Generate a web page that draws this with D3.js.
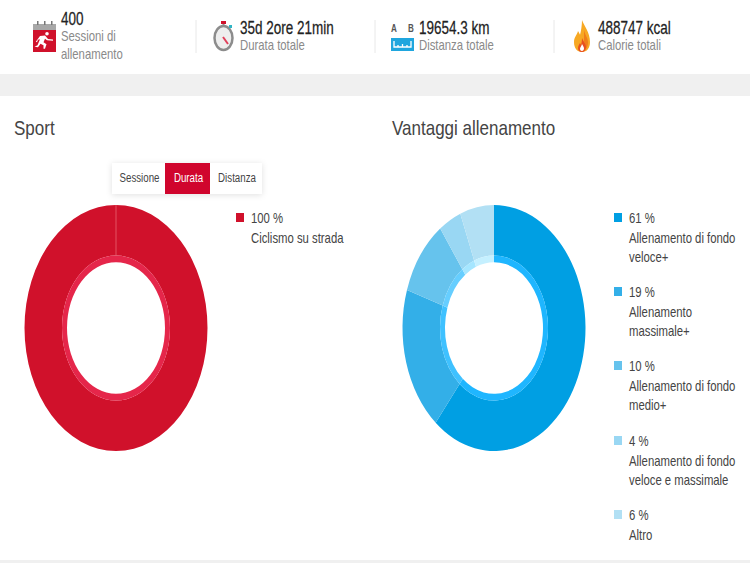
<!DOCTYPE html>
<html>
<head>
<meta charset="utf-8">
<script src="https://d3js.org/d3.v7.min.js"></script>
<style>
  html, body { margin: 0; padding: 0; background: #fff; }
  svg { display: block; }
  text { font-family: "Liberation Sans", Roboto, sans-serif; }
</style>
</head>
<body>
<div id="chart"></div>
<script>
// chart values
var sportLabels = ["Ciclismo su strada"];
var sportValues = [100];
var benefitValues = [61, 19, 10, 4, 6];
var benefitLabels = [
  ["Allenamento di fondo", "veloce+"],
  ["Allenamento", "massimale+"],
  ["Allenamento di fondo", "medio+"],
  ["Allenamento di fondo", "veloce e massimale"],
  ["Altro"]
];
var benefitColors = ["#009fe3", "#33afe8", "#66c3ed", "#99d7f3", "#b2e0f4"];
var benefitInner = ["#1fb6ff", "#3fc1ff", "#66ceff", "#a5e6ff", "#c5f0ff"];
var tabs = ["Sessione", "Durata", "Distanza"];

var W = 750, H = 563;
var squeeze = 0.81; // the whole picture is a bit condensed sideways

var svg = d3.select("#chart").append("svg").attr("width", W).attr("height", H);

svg.append("rect").attr("width", W).attr("height", H).attr("fill", "#fff");
svg.append("rect").attr("y", 74).attr("width", W).attr("height", 22).attr("fill", "#f0f0f0");
svg.append("rect").attr("y", 560).attr("width", W).attr("height", 3).attr("fill", "#f0f0f0");

function label(x, y, str, size, color, sx) {
  return svg.append("text")
    .attr("transform", "translate(" + x + "," + y + ") scale(" + (sx || squeeze) + ",1)")
    .attr("font-size", size)
    .attr("fill", color)
    .text(str);
}

// big header numbers are tighter and a little heavier than the rest
function headline(x, y, str) {
  return label(x, y, str, 18, "#222", 0.75)
    .attr("stroke", "#222").attr("stroke-width", 0.25);
}

// header
headline(61, 25, "400");
label(61, 41, "Sessioni di", 14, "#8a8a8a");
label(61, 59, "allenamento", 14, "#8a8a8a");
headline(240, 34, "35d 2ore 21min");
label(240, 50, "Durata totale", 14, "#8a8a8a");
headline(419, 34, "19654.3 km");
label(419, 50, "Distanza totale", 14, "#8a8a8a");
headline(598, 34, "488747 kcal");
label(598, 50, "Calorie totali", 14, "#8a8a8a");

[196, 375, 554].forEach(function(x) {
  svg.append("line").attr("x1", x).attr("x2", x).attr("y1", 20).attr("y2", 53)
    .attr("stroke", "#e8e8e8");
});

// calendar icon
svg.append("rect").attr("x", 33).attr("y", 24).attr("width", 23).attr("height", 6).attr("fill", "#a8a8a8");
[37, 44, 51].forEach(function(x) {
  svg.append("rect").attr("x", x).attr("y", 21).attr("width", 1.5).attr("height", 4).attr("fill", "#777");
});
svg.append("rect").attr("x", 33).attr("y", 30).attr("width", 23).attr("height", 22).attr("fill", "#d0112b");
svg.append("path")
  .attr("d", "M47 32a1.800 1.800 0 1 1 0 3.600a1.800 1.800 0 1 1 0-3.600M40 36l5-.5l3 3.500l5 .5l0 1.300l-6-.5l-2-1.500l-1.500 3.500l3 2l-1.500 4.500l-1.500 0l0-3.500l-3-1.500l-2.500 3.500l-3.500-.5l3-1.500l2.500-6l-2 .5l-1 2.500l-1.200-.5z")
  .attr("fill", "#fff");

// stopwatch icon
svg.append("rect").attr("x", 221).attr("y", 21).attr("width", 5).attr("height", 3).attr("fill", "#d0112b");
svg.append("rect").attr("x", 222.5).attr("y", 24).attr("width", 2).attr("height", 3).attr("fill", "#8c8c8c");
svg.append("ellipse").attr("cx", 223.5).attr("cy", 38).attr("rx", 9).attr("ry", 12)
  .attr("fill", "#eee").attr("stroke", "#8c8c8c").attr("stroke-width", 2.5);
svg.append("line").attr("x1", 223).attr("y1", 37).attr("x2", 228).attr("y2", 44)
  .attr("stroke", "#e0405a").attr("stroke-width", 2);
svg.append("rect").attr("x", 229).attr("y", 25).attr("width", 3).attr("height", 3).attr("fill", "#2fb5c5");

// A B ruler icon
label(391, 32, "A", 10, "#555").attr("font-weight", 700);
label(408, 32, "B", 10, "#555").attr("font-weight", 700);
svg.append("rect").attr("x", 391).attr("y", 38).attr("width", 23).attr("height", 13).attr("fill", "#1fa6de");
svg.append("path").attr("d", "M394 41v6h17v-6M398 45v2M402.500 44v3M407 45v2")
  .attr("fill", "none").attr("stroke", "#fff").attr("stroke-width", 1.3);

// flame icon
svg.append("path")
  .attr("d", "M582 20c2 6 8 12 8 22c0 6-3 10-8 10c-5 0-8-4-8-10c0-5 3-7 4-11c1 2 2 3 2 4c1-4 2-10 2-15z")
  .attr("fill", "#f7a823");
svg.append("path")
  .attr("d", "M584 30c1 5 4 8 4 12c0 5-2 8-6 10c3-3 3-7 2-11z")
  .attr("fill", "#ef7d1a");
svg.append("path")
  .attr("d", "M582 38c1 3 4 6 4 9c0 3-2 5-4 5c-3 0-4-2-4-4c0-2 1-3 2-5c.5 1 1 1.500 1 2c.5-2 1-4 1-7z")
  .attr("fill", "#e8501f");
svg.append("path")
  .attr("d", "M582 44c1 2 2 3 2 4.500c0 1.500-1 2.500-2 2.500c-1.500 0-2-1-2-2.200c0-1.500 1.500-2.500 2-4.800z")
  .attr("fill", "#fff");

// section titles
label(14, 135, "Sport", 21, "#444");
label(392, 135, "Vantaggi allenamento", 21, "#444");

// tabs
var tabWidths = { "Sessione": 53, "Durata": 45, "Distanza": 52 };
var tabStart = { "Sessione": 112, "Durata": 165, "Distanza": 210 };
svg.append("rect").attr("x", 112).attr("y", 163).attr("width", 150).attr("height", 31)
  .attr("fill", "#fff").style("filter", "drop-shadow(0 1px 3px rgba(0,0,0,0.12))");
tabs.forEach(function(t) {
  if (t === "Durata") {
    svg.append("rect").attr("x", tabStart[t]).attr("y", 163)
      .attr("width", tabWidths[t]).attr("height", 31).attr("fill", "#d0052d");
  }
  label(tabStart[t] + tabWidths[t] / 2 + 1, 182, t, 13.5, t === "Durata" ? "#fff" : "#444", 0.72)
    .attr("text-anchor", "middle");
});

// donuts
var R = 91.5, ringOuter = 54, ringInner = 49, yStretch = 123 / 91.5;
var pie = d3.pie().sort(null);

function donut(cx, cy, values, colors, inner) {
  var g = svg.append("g")
    .attr("transform", "translate(" + cx + "," + cy + ") scale(1," + yStretch + ")");
  var slices = pie(values);
  g.selectAll("path.outer").data(slices).enter().append("path")
    .attr("class", "outer")
    .attr("d", d3.arc().innerRadius(ringOuter).outerRadius(R))
    .attr("fill", function(d, i) { return colors[i]; });
  g.selectAll("path.ring").data(slices).enter().append("path")
    .attr("class", "ring")
    .attr("d", d3.arc().innerRadius(ringInner).outerRadius(ringOuter))
    .attr("fill", function(d, i) { return inner[i]; });
  return g;
}

var sportG = donut(116, 328, sportValues, ["#d0112b"], ["#e5264a"]);
// seam at the top of the full circle
sportG.append("line").attr("x1", 0).attr("x2", 0).attr("y1", -R).attr("y2", -ringOuter)
  .attr("stroke", "#e8606f").attr("stroke-width", 0.7);

donut(494, 328, benefitValues, benefitColors, benefitInner);

// legends
function legendItem(x, y, color, value, lines) {
  svg.append("rect").attr("x", x).attr("y", y - 5).attr("width", 8).attr("height", 9).attr("fill", color);
  label(x + 15, y + 5, value + " %", 14, "#444");
  lines.forEach(function(l, i) {
    label(x + 15, y + 25 + i * 18.5, l, 14, "#444");
  });
}

sportValues.forEach(function(v, i) {
  legendItem(236, 218, "#d0112b", v, [sportLabels[i]]);
});

var legendY = [218, 292, 366, 441, 515];
benefitValues.forEach(function(v, i) {
  legendItem(614, legendY[i], benefitColors[i], v, benefitLabels[i]);
});
</script>
</body>
</html>
